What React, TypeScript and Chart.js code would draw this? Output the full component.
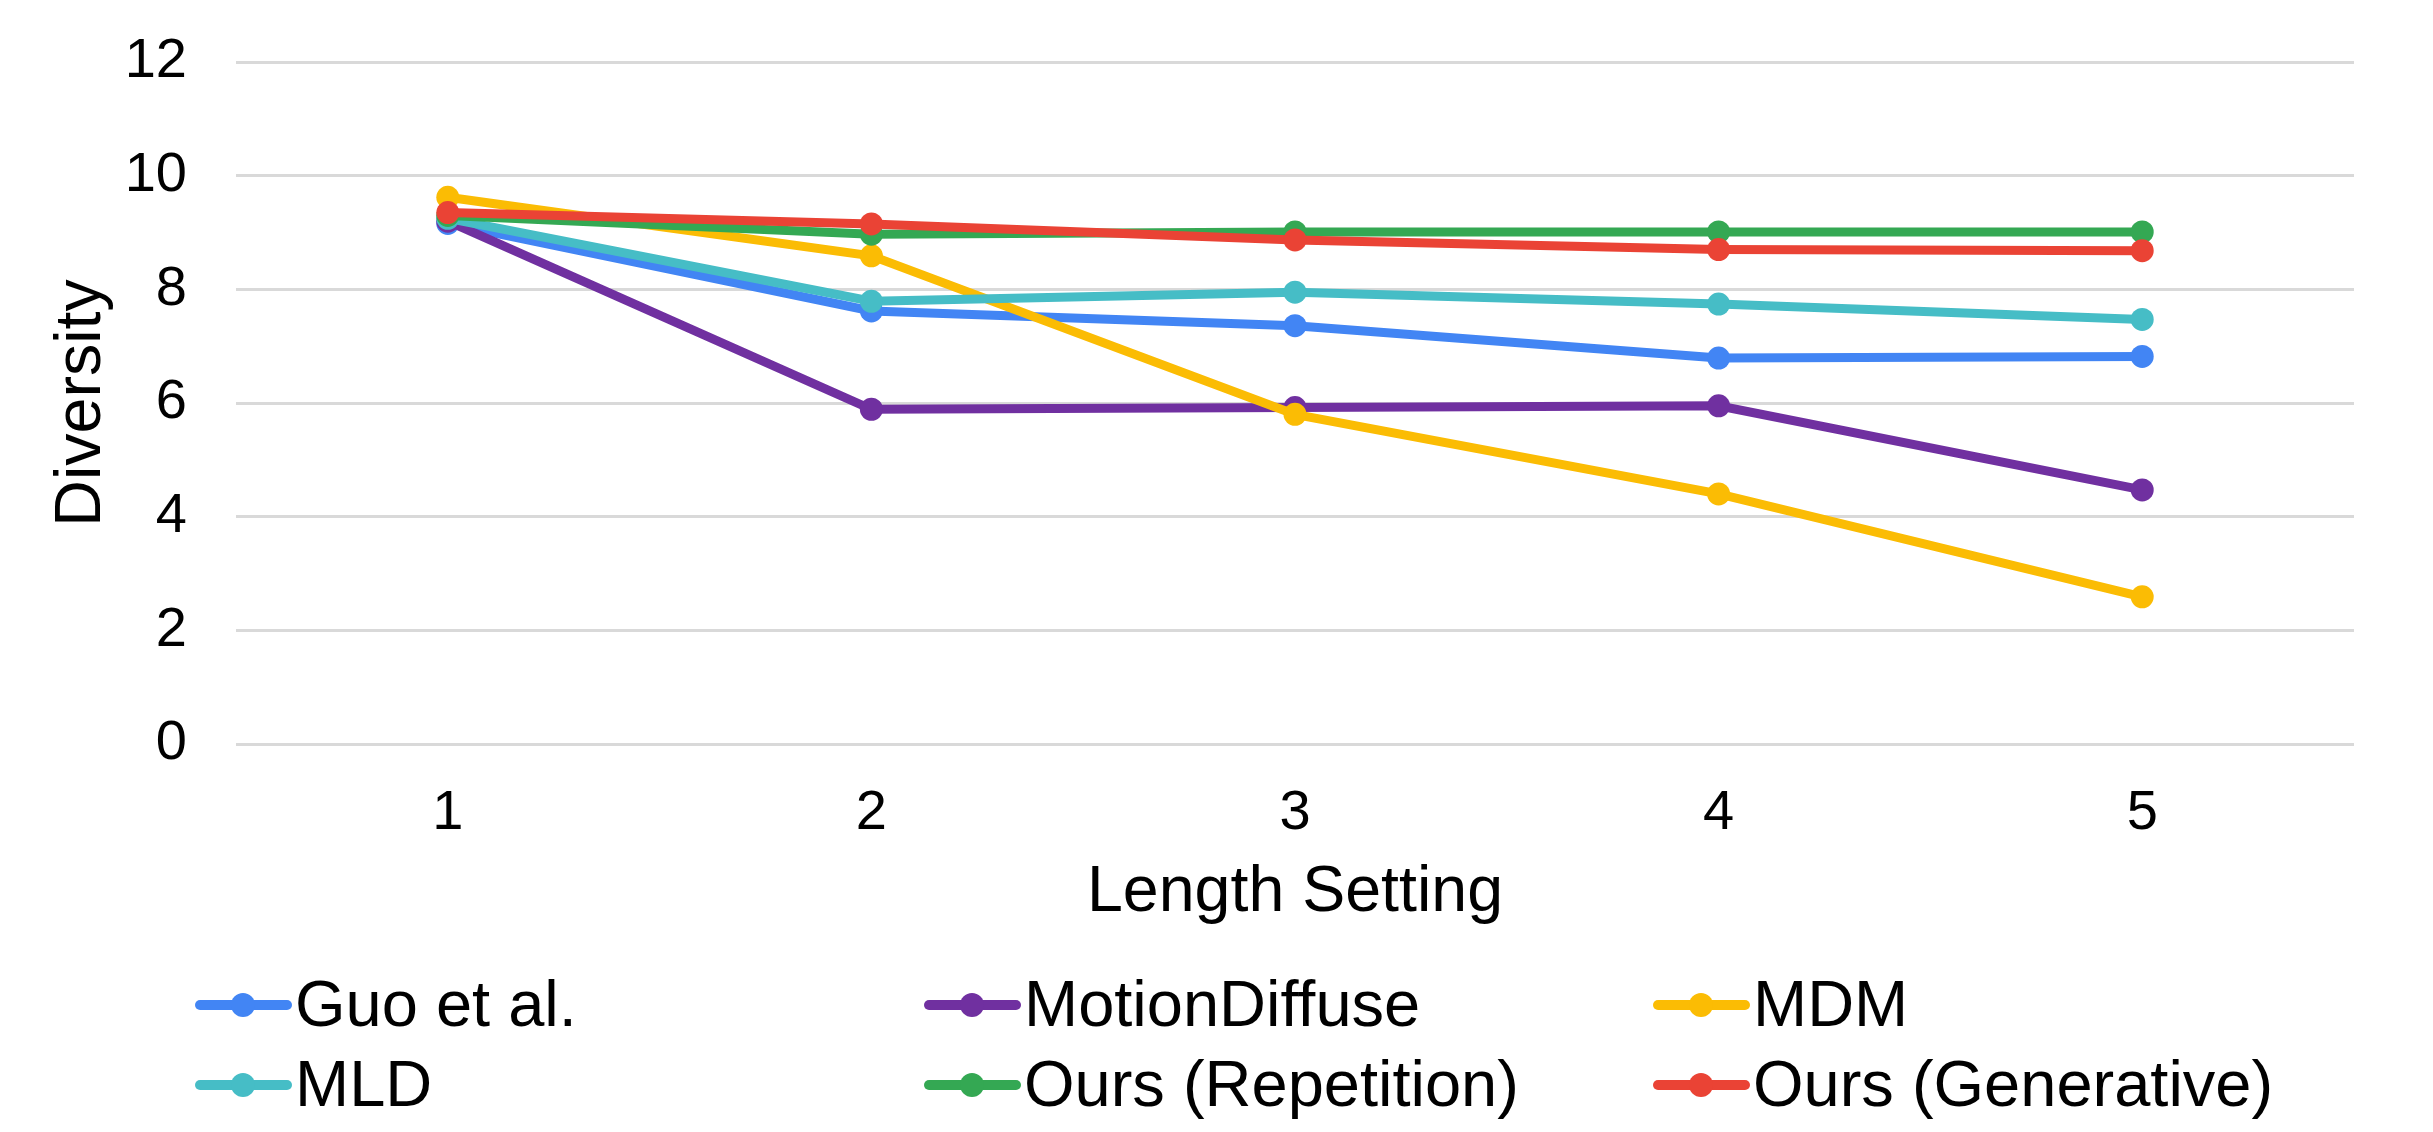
import { useEffect, useRef } from "react";
import { Chart, registerables } from "chart.js";

Chart.register(...registerables);

const lengthSettings = ["1", "2", "3", "4", "5"];
const guoEtAl = [9.16, 7.62, 7.36, 6.79, 6.82];
const motionDiffuse = [9.2, 5.89, 5.92, 5.95, 4.47];
const mdm = [9.62, 8.59, 5.8, 4.4, 2.59];
const mld = [9.25, 7.79, 7.95, 7.74, 7.47];
const oursRepetition = [9.3, 8.97, 9.01, 9.01, 9.01];
const oursGenerative = [9.35, 9.15, 8.87, 8.7, 8.68];

const seriesNames = ["Guo et al.", "MotionDiffuse", "MDM", "MLD", "Ours (Repetition)", "Ours (Generative)"];
const seriesValues = [guoEtAl, motionDiffuse, mdm, mld, oursRepetition, oursGenerative];
const seriesColors = ["#4285f4", "#7030a0", "#fbbc04", "#46bdc6", "#34a853", "#ea4335"];

const FONT = "'Liberation Sans', Arial, sans-serif";

function LegendItem({ name, color }: { name: string; color: string }) {
  return (
    <div style={{ display: "flex", alignItems: "flex-start", height: 80 }}>
      <div style={{ position: "relative", width: 100, height: 80, flex: "none" }}>
        <div
          style={{
            position: "absolute",
            left: 0,
            top: 36.5,
            width: 97,
            height: 10,
            background: color,
            borderRadius: 5,
          }}
        />
        <div
          style={{
            position: "absolute",
            left: 36,
            top: 29.5,
            width: 24,
            height: 24,
            borderRadius: 12,
            background: color,
          }}
        />
      </div>
      <span style={{ fontSize: 65, lineHeight: "80px", color: "#000", whiteSpace: "nowrap" }}>{name}</span>
    </div>
  );
}

export default function App() {
  const canvasRef = useRef<HTMLCanvasElement>(null);

  useEffect(() => {
    const canvas = canvasRef.current;
    if (!canvas) return;

    const chart = new Chart(canvas, {
      type: "line",
      data: {
        labels: lengthSettings,
        datasets: seriesNames.map((name, i) => ({
          label: name,
          data: seriesValues[i],
          borderColor: seriesColors[i],
          backgroundColor: seriesColors[i],
          borderWidth: 9,
          pointRadius: 11.5,
          pointBorderWidth: 0,
          pointBackgroundColor: seriesColors[i],
          tension: 0,
          order: seriesNames.length - i,
        })),
      },
      options: {
        responsive: true,
        maintainAspectRatio: false,
        animation: false,
        devicePixelRatio: 1,
        layout: { padding: { top: 62, right: 79, bottom: 188, left: 0 } },
        plugins: {
          legend: { display: false },
          tooltip: { enabled: false },
        },
        scales: {
          x: {
            offset: true,
            grid: { display: false, drawTicks: false },
            border: { display: false },
            ticks: { color: "#000", padding: 36, font: { size: 56, family: FONT } },
            title: {
              display: true,
              text: "Length Setting",
              color: "#000",
              padding: { top: 0, bottom: 12 },
              font: { size: 64.5, family: FONT },
            },
            afterFit: (scale) => {
              scale.height = 200;
            },
          },
          y: {
            min: 0,
            max: 12,
            grid: { color: "#d9d9d9", lineWidth: 3, drawTicks: false },
            border: { display: false },
            ticks: { stepSize: 2, color: "#000", padding: 49, font: { size: 56, family: FONT } },
            title: {
              display: true,
              text: "Diversity",
              color: "#000",
              padding: { top: 44, bottom: 0 },
              font: { size: 64.5, family: FONT },
            },
            afterFit: (scale) => {
              scale.width = 236;
              scale.paddingTop = 0;
              scale.paddingBottom = 0;
            },
          },
        },
      },
    });

    return () => chart.destroy();
  }, []);

  return (
    <div
      style={{
        position: "fixed",
        left: 0,
        top: 0,
        width: 2433,
        height: 1132,
        background: "#fff",
        fontFamily: FONT,
      }}
    >
      <canvas ref={canvasRef} />
      <div
        style={{
          position: "absolute",
          left: 195,
          top: 963.5,
          display: "grid",
          gridTemplateColumns: "729px 729px 729px",
        }}
      >
        {seriesNames.map((name, i) => (
          <LegendItem key={name} name={name} color={seriesColors[i]} />
        ))}
      </div>
    </div>
  );
}
